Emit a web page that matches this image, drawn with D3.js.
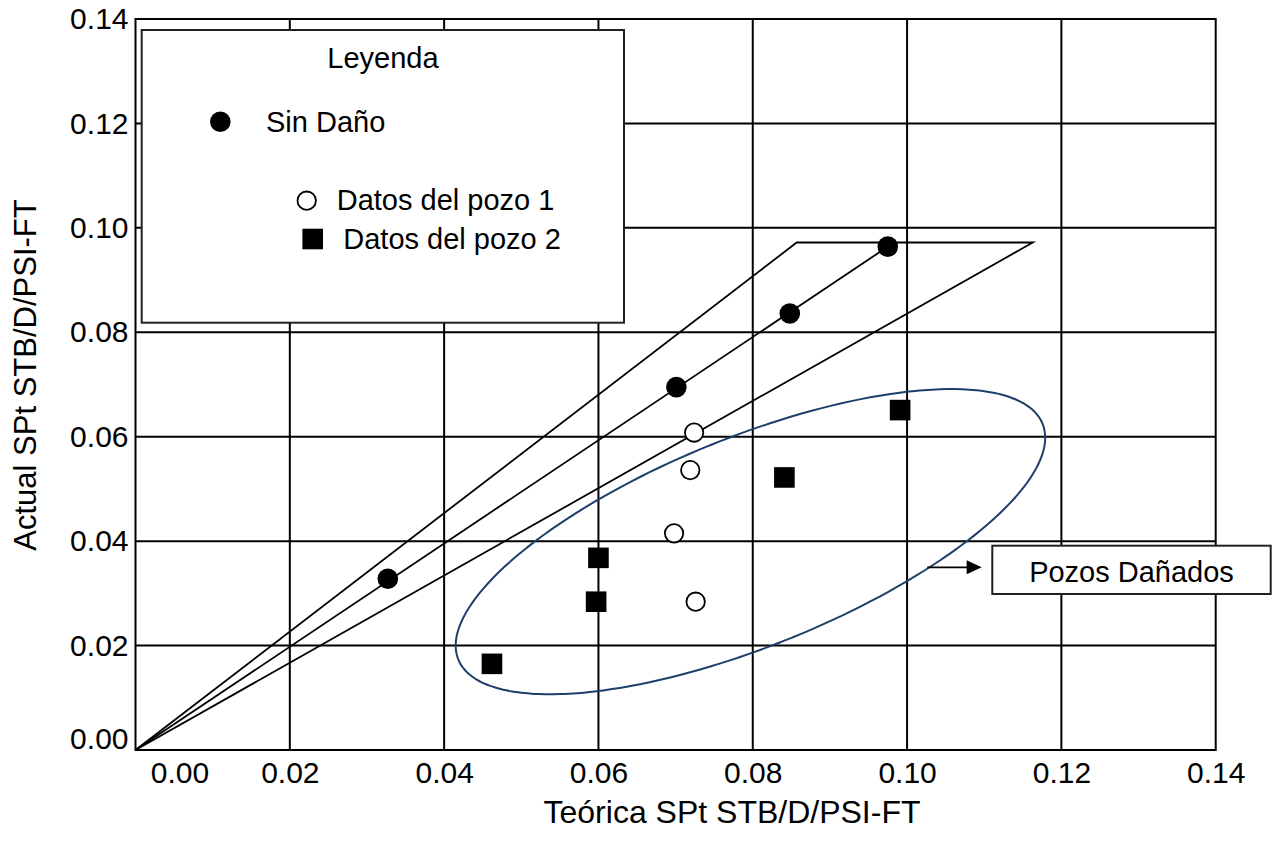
<!DOCTYPE html>
<html>
<head>
<meta charset="utf-8">
<script src="https://cdnjs.cloudflare.com/ajax/libs/d3/7.8.5/d3.min.js"></script>
<style>
    body { margin: 0; background: #fff; }
    svg text { font-family: "Liberation Sans", Arial, sans-serif; fill: #000; }
</style>
</head>
<body>
<div id="chart"></div>
<script>
// axis ticks (same on both axes)
var xTicks = [0, 0.02, 0.04, 0.06, 0.08, 0.10, 0.12, 0.14];
var yTicks = [0, 0.02, 0.04, 0.06, 0.08, 0.10, 0.12, 0.14];

// Sin Daño (undamaged wells)
var sinDanoX = [0.0327, 0.0701, 0.0848, 0.0975];
var sinDanoY = [0.0328, 0.0695, 0.0836, 0.0964];

// Datos del pozo 1
var pozo1X = [0.0724, 0.0719, 0.0698, 0.0726];
var pozo1Y = [0.0608, 0.0536, 0.0415, 0.0284];

// Datos del pozo 2
var pozo2X = [0.0462, 0.0597, 0.0600, 0.0841, 0.0991];
var pozo2Y = [0.0165, 0.0284, 0.0368, 0.0522, 0.0651];

// envelope around the undamaged line: upper / lower corners at the top
var fanTopY = 0.0972;
var fanUpperX = 0.0857;
var fanLowerX = 0.1163;

// ellipse for damaged wells (centre + two conjugate half diameters, data units)
var ellipseCenter = [0.0797, 0.0399];
var ellipseHalfA = [0.0382, 0.0199];
var ellipseHalfB = [0, 0.0214];

var legendTitle = "Leyenda";
var legendLabels = ["Sin Daño", "Datos del pozo 1", "Datos del pozo 2"];
var noteLabel = "Pozos Dañados";
var xTitle = "Teórica SPt STB/D/PSI-FT";
var yTitle = "Actual SPt STB/D/PSI-FT";

var W = 1273, H = 843;
var margin = {top: 19, right: 57.3, bottom: 93, left: 135.5},
    width = W - margin.left - margin.right,
    height = H - margin.top - margin.bottom;

var x = d3.scaleLinear().domain([0, 0.14]).range([0, width]);
var y = d3.scaleLinear().domain([0, 0.14]).range([height, 0]);

var svg = d3.select("#chart").append("svg")
    .attr("width", W)
    .attr("height", H);

var g = svg.append("g")
    .attr("transform", "translate(" + margin.left + "," + margin.top + ")");

// grid
g.selectAll(".vgrid")
    .data(xTicks.slice(1, -1))
    .enter().append("line")
    .attr("class", "vgrid")
    .attr("x1", function (d) { return x(d); })
    .attr("x2", function (d) { return x(d); })
    .attr("y1", 0)
    .attr("y2", height)
    .style("stroke", "#000")
    .style("stroke-width", 2);

g.selectAll(".hgrid")
    .data(yTicks.slice(1, -1))
    .enter().append("line")
    .attr("class", "hgrid")
    .attr("x1", 0)
    .attr("x2", width)
    .attr("y1", function (d) { return y(d); })
    .attr("y2", function (d) { return y(d); })
    .style("stroke", "#000")
    .style("stroke-width", 2);

g.append("rect")
    .attr("width", width)
    .attr("height", height)
    .style("fill", "none")
    .style("stroke", "#000")
    .style("stroke-width", 2);

// axes
var xAxis = g.append("g")
    .attr("transform", "translate(0," + height + ")")
    .call(d3.axisBottom(x).tickValues(xTicks).tickSize(0).tickPadding(12).tickFormat(d3.format(".2f")));
xAxis.select(".domain").remove();
xAxis.attr("font-family", null).attr("font-size", 30);
xAxis.selectAll("text")
    .filter(function (d) { return d === 0; })
    .attr("dx", 44);

var yAxis = g.append("g")
    .call(d3.axisLeft(y).tickValues(yTicks).tickSize(0).tickPadding(7).tickFormat(d3.format(".2f")));
yAxis.select(".domain").remove();
yAxis.attr("font-family", null).attr("font-size", 30);
yAxis.selectAll("text")
    .filter(function (d) { return d === 0; })
    .attr("y", -11);

svg.append("text")
    .attr("x", 732)
    .attr("y", 823)
    .style("font-size", "32px")
    .style("text-anchor", "middle")
    .text(xTitle);

svg.append("text")
    .attr("transform", "translate(36,375) rotate(-90)")
    .style("font-size", "31px")
    .style("text-anchor", "middle")
    .text(yTitle);

// envelope + undamaged trend line
var line = d3.line()
    .x(function (d) { return x(d[0]); })
    .y(function (d) { return y(d[1]); });

g.append("path")
    .attr("d", line([[0, 0], [fanUpperX, fanTopY], [fanLowerX, fanTopY]]) + "Z")
    .style("fill", "none")
    .style("stroke", "#000")
    .style("stroke-width", 1.8);

g.append("path")
    .attr("d", line([[0, 0], [sinDanoX[sinDanoX.length - 1], sinDanoY[sinDanoY.length - 1]]]))
    .style("fill", "none")
    .style("stroke", "#000")
    .style("stroke-width", 1.8);

// ellipse
var ellipsePts = d3.range(0, 360, 2).map(function (deg) {
    var t = deg * Math.PI / 180;
    return [ellipseCenter[0] + ellipseHalfA[0] * Math.cos(t) + ellipseHalfB[0] * Math.sin(t),
            ellipseCenter[1] + ellipseHalfA[1] * Math.cos(t) + ellipseHalfB[1] * Math.sin(t)];
});
g.append("path")
    .attr("d", line.curve(d3.curveCardinalClosed)(ellipsePts))
    .style("fill", "none")
    .style("stroke", "#1f3f6b")
    .style("stroke-width", 2);

// markers
var sinDano = sinDanoX.map(function (v, i) { return {x: v, y: sinDanoY[i]}; });
var pozo1 = pozo1X.map(function (v, i) { return {x: v, y: pozo1Y[i]}; });
var pozo2 = pozo2X.map(function (v, i) { return {x: v, y: pozo2Y[i]}; });

g.selectAll(".sin")
    .data(sinDano)
    .enter().append("circle")
    .attr("class", "sin")
    .attr("cx", function (d) { return x(d.x); })
    .attr("cy", function (d) { return y(d.y); })
    .attr("r", 10.3)
    .style("fill", "#000");

g.selectAll(".p1")
    .data(pozo1)
    .enter().append("circle")
    .attr("class", "p1")
    .attr("cx", function (d) { return x(d.x); })
    .attr("cy", function (d) { return y(d.y); })
    .attr("r", 9.2)
    .style("fill", "#fff")
    .style("stroke", "#000")
    .style("stroke-width", 1.8);

g.selectAll(".p2")
    .data(pozo2)
    .enter().append("rect")
    .attr("class", "p2")
    .attr("x", function (d) { return x(d.x) - 10.3; })
    .attr("y", function (d) { return y(d.y) - 10.3; })
    .attr("width", 20.6)
    .attr("height", 20.6)
    .style("fill", "#000");

// legend box
var legend = svg.append("g");
legend.append("rect")
    .attr("x", 141.7)
    .attr("y", 30)
    .attr("width", 482.3)
    .attr("height", 292.7)
    .style("fill", "#fff")
    .style("stroke", "#222")
    .style("stroke-width", 2);

legend.append("text")
    .attr("x", 383)
    .attr("y", 68)
    .style("font-size", "29px")
    .style("text-anchor", "middle")
    .text(legendTitle);

legend.append("circle")
    .attr("cx", 220.3)
    .attr("cy", 121.7)
    .attr("r", 10.3)
    .style("fill", "#000");
legend.append("circle")
    .attr("cx", 306.7)
    .attr("cy", 200.7)
    .attr("r", 9.2)
    .style("fill", "#fff")
    .style("stroke", "#000")
    .style("stroke-width", 1.8);
legend.append("rect")
    .attr("x", 302.4)
    .attr("y", 228.7)
    .attr("width", 20.6)
    .attr("height", 20.6)
    .style("fill", "#000");

var legendPos = [[266, 132.3], [336.7, 210], [343.3, 249]];
legend.selectAll(".ltext")
    .data(legendLabels)
    .enter().append("text")
    .attr("class", "ltext")
    .attr("x", function (d, i) { return legendPos[i][0]; })
    .attr("y", function (d, i) { return legendPos[i][1]; })
    .style("font-size", "29px")
    .text(function (d) { return d; });

// "Pozos Dañados" note with arrow
var note = svg.append("g");
note.append("rect")
    .attr("x", 992.3)
    .attr("y", 545.7)
    .attr("width", 278.4)
    .attr("height", 48.3)
    .style("fill", "#fff")
    .style("stroke", "#222")
    .style("stroke-width", 2);
note.append("text")
    .attr("x", 1131.5)
    .attr("y", 582.3)
    .style("font-size", "29px")
    .style("text-anchor", "middle")
    .text(noteLabel);
note.append("line")
    .attr("x1", 927.3)
    .attr("x2", 968)
    .attr("y1", 567.3)
    .attr("y2", 567.3)
    .style("stroke", "#000")
    .style("stroke-width", 1.8);
note.append("path")
    .attr("d", "M981.7,567.3L966.7,560.3L966.7,574.3Z")
    .style("fill", "#000");
</script>
</body>
</html>
